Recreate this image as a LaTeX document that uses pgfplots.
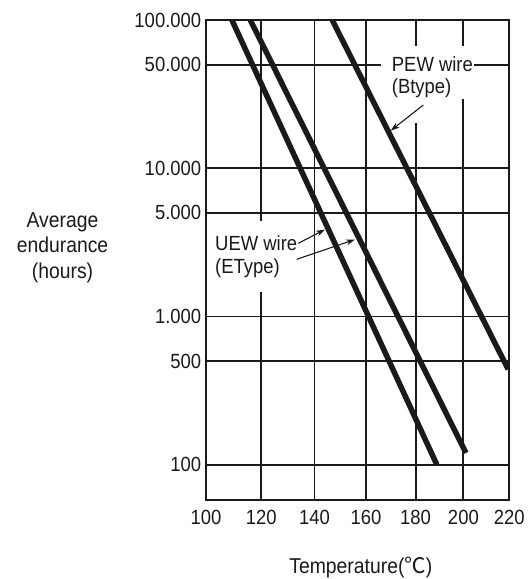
\documentclass[border=0pt]{standalone}
\usepackage{pgfplots}
\pgfplotsset{compat=1.18}
\usetikzlibrary{arrows.meta}
\usepackage{fontspec}
\setmainfont{Liberation Sans}[FakeStretch=0.9]
\newfontfamily\cjk{Noto Sans CJK SC}
\newcommand\fsz{\fontsize{20.5bp}{23bp}\selectfont}
\newcommand\fsl{\fontsize{21.5bp}{24bp}\selectfont}
\definecolor{ink}{HTML}{1A1A1A}
\begin{document}
\begin{tikzpicture}
\useasboundingbox (-206bp,-78.7bp) rectangle (324bp,500.3bp);
\begin{axis}[
  at={(0,0)}, anchor=south west,
  scale only axis, width=303.3bp, height=480.3bp,
  xmin=100, xmax=220, ymode=log, ymin=57.54, ymax=100000,
  x coord trafo/.code={\pgfmathparse{((#1)-100)/20*(56.13-0.927*((#1)-100)/20)}},
  xtick={100,120,140,160,180,200,220},
  xticklabels={100,120,140,160,180,200,220},
  ytick={100,500,1000,5000,10000,50000,100000},
  yticklabels={100,500,1.000,5.000,10.000,50.000,100.000},
  yminorticks=false, xminorticks=false,
  major tick length=0pt,
  grid=major, major grid style={ink, line width=1.9bp},
  axis line style={ink, line width=2.2bp},
  tick label style={font=\fsz, text=ink},
  xticklabel style={yshift=-6.3bp},
  yticklabel style={xshift=-1.3bp},
]
\addplot[ink, line width=5.5bp] coordinates {(109.3,100000) (188.8,100)};
\addplot[ink, line width=5.5bp] coordinates {(116.0,100000) (201.1,120)};
\addplot[ink, line width=5.5bp] coordinates {(146.8,100000) (219.5,440)};
\end{axis}
% white gaps behind annotations
\fill[white] (175bp,401.3bp) rectangle (268bp,454.3bp);
\fill[white] (206bp,377.3bp) rectangle (214bp,401.3bp);
\fill[white] (3bp,208.3bp) rectangle (100bp,279.3bp);
% annotations
\node[font=\fsz, text=ink, anchor=base west, inner sep=0pt] at (185.7bp,428.6bp) {PEW wire};
\node[font=\fsz, text=ink, anchor=base west, inner sep=0pt] at (185.7bp,407bp) {(Btype)};
\node[font=\fsz, text=ink, anchor=base west, inner sep=0pt] at (9bp,249.6bp) {UEW wire};
\node[font=\fsz, text=ink, anchor=base west, inner sep=0pt] at (9bp,227.1bp) {(EType)};
\draw[ink, line width=1.1bp, -{Stealth[length=9bp,width=6bp]}] (217.3bp,395.3bp) -- (184.7bp,369.6bp);
\draw[ink, line width=1.1bp, -{Stealth[length=9bp,width=6bp]}] (92.3bp,257bp) -- (119bp,270.8bp);
\draw[ink, line width=1.1bp, -{Stealth[length=9bp,width=6bp]}] (90.7bp,241bp) -- (149bp,260.8bp);
% axis titles
\node[font=\fsl, text=ink, anchor=base] at (-143.5bp,273bp) {Average};
\node[font=\fsl, text=ink, anchor=base] at (-143.5bp,247.5bp) {endurance};
\node[font=\fsl, text=ink, anchor=base] at (-143.5bp,222bp) {(hours)};
\node[font=\fsl, text=ink, anchor=base, inner sep=0pt] at (154.9bp,-73bp) {Temperature({\cjk ℃})};
\end{tikzpicture}
\end{document}
